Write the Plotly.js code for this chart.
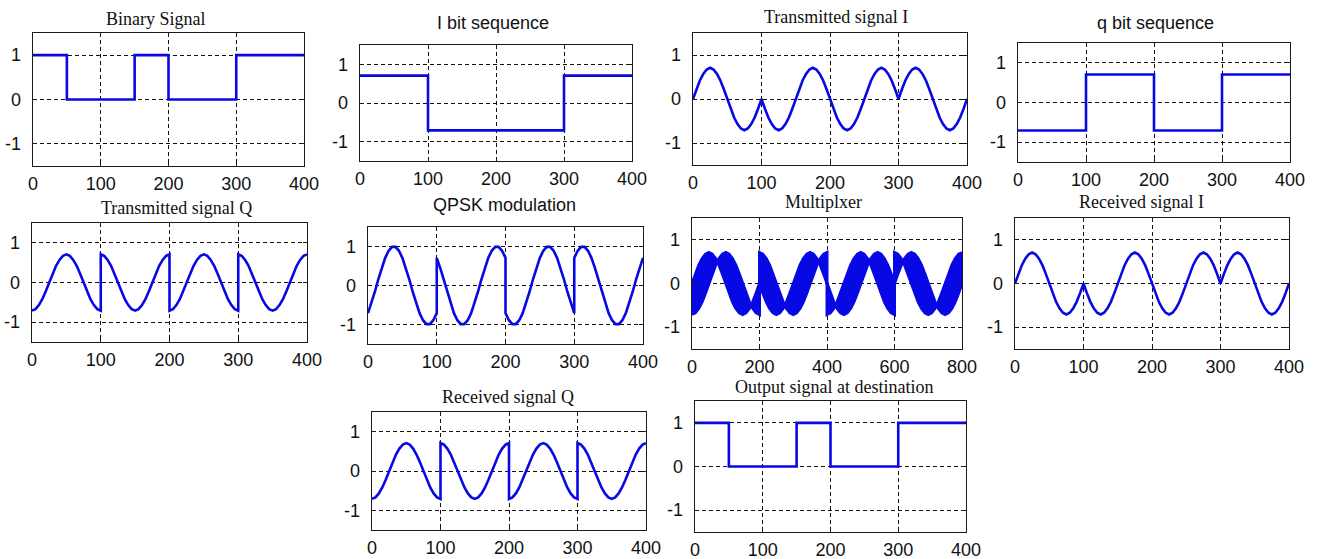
<!DOCTYPE html>
<html><head><meta charset="utf-8">
<script src="https://cdn.plot.ly/plotly-3.0.1.min.js"></script>
<style>html,body{margin:0;padding:0;background:#fff}#chart{width:1319px;height:559px}</style>
</head><body><div id="chart"></div>
<script>
// ---------------- data ----------------
const bitEdges = [0, 50, 100, 150, 200, 250, 300, 350, 400];
const binaryBits = [1, 0, 0, 1, 0, 0, 1, 1];
const symEdges = [0, 100, 200, 300, 400];
const iBits = [0.707, -0.707, -0.707, 0.707];
const qBits = [-0.707, 0.707, -0.707, 0.707];
const outputBits = [1, 0, 0, 1, 0, 0, 1, 1];

const t = [
  0,5,10,15,20,25,30,35,40,45,50,55,60,65,70,75,80,85,90,95,100,
  100,105,110,115,120,125,130,135,140,145,150,155,160,165,170,175,180,185,190,195,200,
  200,205,210,215,220,225,230,235,240,245,250,255,260,265,270,275,280,285,290,295,300,
  300,305,310,315,320,325,330,335,340,345,350,355,360,365,370,375,380,385,390,395,400
];
const transI = [
  0,0.22,0.42,0.57,0.67,0.71,0.67,0.57,0.42,0.22,0,-0.22,-0.42,-0.57,-0.67,-0.71,-0.67,-0.57,-0.42,-0.22,0,
  0,-0.22,-0.42,-0.57,-0.67,-0.71,-0.67,-0.57,-0.42,-0.22,0,0.22,0.42,0.57,0.67,0.71,0.67,0.57,0.42,0.22,0,
  0,-0.22,-0.42,-0.57,-0.67,-0.71,-0.67,-0.57,-0.42,-0.22,0,0.22,0.42,0.57,0.67,0.71,0.67,0.57,0.42,0.22,0,
  0,0.22,0.42,0.57,0.67,0.71,0.67,0.57,0.42,0.22,0,-0.22,-0.42,-0.57,-0.67,-0.71,-0.67,-0.57,-0.42,-0.22,0
];
const transQ = [
  -0.71,-0.67,-0.57,-0.42,-0.22,0,0.22,0.42,0.57,0.67,0.71,0.67,0.57,0.42,0.22,0,-0.22,-0.42,-0.57,-0.67,-0.71,
  0.71,0.67,0.57,0.42,0.22,0,-0.22,-0.42,-0.57,-0.67,-0.71,-0.67,-0.57,-0.42,-0.22,0,0.22,0.42,0.57,0.67,0.71,
  -0.71,-0.67,-0.57,-0.42,-0.22,0,0.22,0.42,0.57,0.67,0.71,0.67,0.57,0.42,0.22,0,-0.22,-0.42,-0.57,-0.67,-0.71,
  0.71,0.67,0.57,0.42,0.22,0,-0.22,-0.42,-0.57,-0.67,-0.71,-0.67,-0.57,-0.42,-0.22,0,0.22,0.42,0.57,0.67,0.71
];
const qpsk = [
  -0.71,-0.45,-0.16,0.16,0.45,0.71,0.89,0.99,0.99,0.89,0.71,0.45,0.16,-0.16,-0.45,-0.71,-0.89,-0.99,-0.99,-0.89,-0.71,
  0.71,0.45,0.16,-0.16,-0.45,-0.71,-0.89,-0.99,-0.99,-0.89,-0.71,-0.45,-0.16,0.16,0.45,0.71,0.89,0.99,0.99,0.89,0.71,
  -0.71,-0.89,-0.99,-0.99,-0.89,-0.71,-0.45,-0.16,0.16,0.45,0.71,0.89,0.99,0.99,0.89,0.71,0.45,0.16,-0.16,-0.45,-0.71,
  0.71,0.89,0.99,0.99,0.89,0.71,0.45,0.16,-0.16,-0.45,-0.71,-0.89,-0.99,-0.99,-0.89,-0.71,-0.45,-0.16,0.16,0.45,0.71
];
const recvI = [
  0,0.22,0.42,0.57,0.67,0.71,0.67,0.57,0.42,0.22,0,-0.22,-0.42,-0.57,-0.67,-0.71,-0.67,-0.57,-0.42,-0.22,0,
  0,-0.22,-0.42,-0.57,-0.67,-0.71,-0.67,-0.57,-0.42,-0.22,0,0.22,0.42,0.57,0.67,0.71,0.67,0.57,0.42,0.22,0,
  0,-0.22,-0.42,-0.57,-0.67,-0.71,-0.67,-0.57,-0.42,-0.22,0,0.22,0.42,0.57,0.67,0.71,0.67,0.57,0.42,0.22,0,
  0,0.22,0.42,0.57,0.67,0.71,0.67,0.57,0.42,0.22,0,-0.22,-0.42,-0.57,-0.67,-0.71,-0.67,-0.57,-0.42,-0.22,0
];
const recvQ = [
  -0.71,-0.67,-0.57,-0.42,-0.22,0,0.22,0.42,0.57,0.67,0.71,0.67,0.57,0.42,0.22,0,-0.22,-0.42,-0.57,-0.67,-0.71,
  0.71,0.67,0.57,0.42,0.22,0,-0.22,-0.42,-0.57,-0.67,-0.71,-0.67,-0.57,-0.42,-0.22,0,0.22,0.42,0.57,0.67,0.71,
  -0.71,-0.67,-0.57,-0.42,-0.22,0,0.22,0.42,0.57,0.67,0.71,0.67,0.57,0.42,0.22,0,-0.22,-0.42,-0.57,-0.67,-0.71,
  0.71,0.67,0.57,0.42,0.22,0,-0.22,-0.42,-0.57,-0.67,-0.71,-0.67,-0.57,-0.42,-0.22,0,0.22,0.42,0.57,0.67,0.71
];
const titles = ["Binary Signal", "I bit sequence", "Transmitted signal I", "q bit sequence",
  "Transmitted signal Q", "QPSK modulation", "Multiplxer", "Received signal I",
  "Received signal Q", "Output signal at destination"];
const yTicks = [-1, 0, 1];

// ---------------- layout geometry ----------------
const W = 1319, H = 559;
const BLUE = 'rgb(8,8,228)';
const SERIF = 'Liberation Serif, Times New Roman, serif';
const SANS = 'Liberation Sans, Arial, sans-serif';
const TICKFONT = 'Liberation Sans, Arial, sans-serif';
// [left, right, top, bottom] in px, title centre [cx, cy], font, x max, x dtick
const panels = [
  {box:[33,304,33,166],  tc:[156,19],  f:SERIF, xmax:400, dt:100},
  {box:[360,632,45,161], tc:[493,23],  f:SANS,  xmax:400, dt:100},
  {box:[693,967,33,165], tc:[836,17],  f:SERIF, xmax:400, dt:100},
  {box:[1018,1290,43,162], tc:[1155,23], f:SANS, xmax:400, dt:100},
  {box:[32,307,223,342], tc:[176,208], f:SERIF, xmax:400, dt:100},
  {box:[368,643,227,344], tc:[504,205], f:SANS, xmax:400, dt:100},
  {box:[692,962,218,349], tc:[823,202], f:SERIF, xmax:800, dt:200},
  {box:[1015,1289,218,349], tc:[1141,202], f:SERIF, xmax:400, dt:100},
  {box:[372,646,412,530], tc:[508,397], f:SERIF, xmax:400, dt:100},
  {box:[695,966,401,532], tc:[834,387], f:SERIF, xmax:400, dt:100}
];

function step(edges, vals) { return {x: edges, y: vals.concat([vals[vals.length-1]])}; }

const layout = {
  width: W, height: H, margin: {l:0, r:0, t:0, b:0},
  paper_bgcolor: '#fff', plot_bgcolor: '#fff', showlegend: false,
  annotations: []
};
panels.forEach((p, i) => {
  const n = i === 0 ? '' : String(i + 1);
  const [l, r, tp, b] = p.box;
  const common = {
    showline: true, linecolor: '#1a1a1a', linewidth: 1.3, mirror: 'ticks',
    ticks: 'inside', ticklen: 4, tickcolor: '#1a1a1a',
    showgrid: true, gridcolor: '#111', gridwidth: 1, griddash: '4px,3px',
    zeroline: false, tickfont: {family: TICKFONT, size: 18, color: '#111'},
    fixedrange: true
  };
  layout['xaxis' + n] = Object.assign({}, common, {
    domain: [l / W, r / W], range: [0, p.xmax], tickmode: 'linear', tick0: 0, dtick: p.dt,
    anchor: 'y' + n, ticklabelstandoff: 1
  });
  layout['yaxis' + n] = Object.assign({}, common, {
    domain: [1 - b / H, 1 - tp / H], range: [-1.5, 1.5], tickmode: 'array', tickvals: yTicks,
    ticktext: yTicks.map(String), anchor: 'x' + n, ticklabelstandoff: 7
  });
  layout.annotations.push({
    text: titles[i], xref: 'paper', yref: 'paper', x: p.tc[0] / W, y: 1 - p.tc[1] / H,
    xanchor: 'center', yanchor: 'middle', showarrow: false,
    font: {family: p.f, size: 18, color: '#111'}
  });
});

const ln = {color: BLUE, width: 2.6};
const traces = [];
function add(i, x, y, extra) {
  const n = i === 0 ? '' : String(i + 1);
  traces.push(Object.assign({type: 'scatter', mode: 'lines', x: x, y: y, line: ln,
    xaxis: 'x' + n, yaxis: 'y' + n, hoverinfo: 'skip'}, extra || {}));
}
let s = step(bitEdges, binaryBits); add(0, s.x, s.y, {line: Object.assign({shape: 'hv'}, ln)});
s = step(symEdges, iBits); add(1, s.x, s.y, {line: Object.assign({shape: 'hv'}, ln)});
add(2, t, transI);
s = step(symEdges, qBits); add(3, s.x, s.y, {line: Object.assign({shape: 'hv'}, ln)});
add(4, t, transQ);
add(5, t, qpsk);
const muxX = t.map(v => v * 2);
add(6, muxX, transI, {line: {color: BLUE, width: 3}});
add(6, muxX, transQ, {line: {color: BLUE, width: 3}, fill: 'tonexty', fillcolor: BLUE});
add(7, t, recvI);
add(8, t, recvQ);
s = step(bitEdges, outputBits); add(9, s.x, s.y, {line: Object.assign({shape: 'hv'}, ln)});

Plotly.newPlot('chart', traces, layout, {displayModeBar: false, staticPlot: true});
</script>
</body></html>
